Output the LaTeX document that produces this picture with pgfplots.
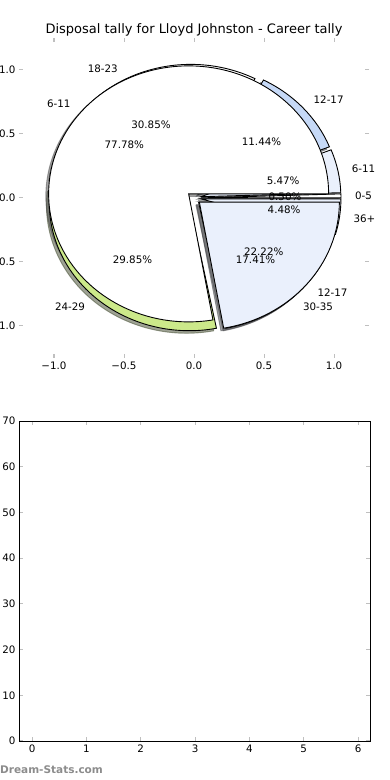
\documentclass[border=0pt]{standalone}
\usepackage{fontspec}
\setmainfont{DejaVu Sans}
\usepackage{pgfplots}
\usepackage{pgfplotstable}
\pgfplotsset{compat=1.18}

\definecolor{paleblue}{RGB}{234,240,252}
\definecolor{lightblue}{RGB}{198,217,247}
\definecolor{lightgreen}{RGB}{204,233,138}
\definecolor{tickgrey}{RGB}{191,191,191}
\definecolor{markgrey}{RGB}{140,140,140}

% Career disposal tally (outer pie, 7 slices)
\pgfplotstableread{
label pct col
0-5 0.50 white
6-11 5.47 paleblue
12-17 11.44 lightblue
18-23 30.85 white
24-29 29.85 lightgreen
30-35 17.41 white
36+ 4.48 paleblue
}\tabA
% second pie (2 slices)
\pgfplotstableread{
label pct col
6-11 77.78 white
12-17 22.22 paleblue
}\tabB

\newcommand\piefont{\fontsize{10.3}{12}\selectfont}
\newcommand\titlefont{\fontsize{13}{15}\selectfont}
\def\pieXu{140pt}
\def\pieYu{128pt}
\def\pieExpl{0.05}

% #1 table, #2 stage: 0 shadow, 1 wedge, 2 texts
\newcommand\drawpie[2]{%
  \pgfplotstablegetrowsof{#1}%
  \pgfmathtruncatemacro\pieLast{\pgfplotsretval-1}%
  \def\pieCum{0}%
  \pgfplotsforeachungrouped \pieI in {0,...,\pieLast}{%
    \pgfplotstablegetelem{\pieI}{pct}\of#1\let\pieP\pgfplotsretval
    \pgfplotstablegetelem{\pieI}{label}\of#1\let\pieLab\pgfplotsretval
    \pgfplotstablegetelem{\pieI}{col}\of#1\let\pieCol\pgfplotsretval
    \pgfmathsetmacro\angS{\pieCum*3.6}%
    \pgfmathsetmacro\angE{(\pieCum+\pieP)*3.6}%
    \pgfmathsetmacro\angM{(\angS+\angE)/2}%
    \pgfmathsetmacro\pieCx{\pieExpl*cos(\angM)}%
    \pgfmathsetmacro\pieCy{\pieExpl*sin(\angM)}%
    \pgfmathsetmacro\pieCum{\pieCum+\pieP}%
    \ifcase#2
      \pgfmathsetmacro\pieCx{\pieCx-0.02}%
      \pgfmathsetmacro\pieCy{\pieCy-0.02}%
      \pgfmathsetmacro\pieRx{\pieCx+cos(\angS)}%
      \pgfmathsetmacro\pieRy{\pieCy+sin(\angS)}%
      \edef\pieCmd{\noexpand\filldraw[fill=\pieCol!30!black,draw=\pieCol!30!black,opacity=0.5,line width=0.9pt] (axis cs:\pieCx,\pieCy) -- (axis cs:\pieRx,\pieRy) arc[start angle=\angS,end angle=\angE,x radius=\pieXu,y radius=\pieYu] -- cycle;}%
      \pieCmd
    \or
      \pgfmathsetmacro\pieRx{\pieCx+cos(\angS)}%
      \pgfmathsetmacro\pieRy{\pieCy+sin(\angS)}%
      \edef\pieCmd{\noexpand\filldraw[fill=\pieCol,draw=black,line width=0.9pt] (axis cs:\pieCx,\pieCy) -- (axis cs:\pieRx,\pieRy) arc[start angle=\angS,end angle=\angE,x radius=\pieXu,y radius=\pieYu] -- cycle;}%
      \pieCmd
    \or
      \pgfmathsetmacro\pieTx{\pieCx+0.6*cos(\angM)}%
      \pgfmathsetmacro\pieTy{\pieCy+0.6*sin(\angM)}%
      \pgfmathsetmacro\pieLx{\pieCx+1.1*cos(\angM)}%
      \pgfmathsetmacro\pieLy{\pieCy+1.1*sin(\angM)}%
      \pgfmathtruncatemacro\pieRight{cos(\angM)>0}%
      \ifnum\pieRight=1 \def\pieAnc{west}\else\def\pieAnc{east}\fi
      \edef\pieCmd{\noexpand\node[font=\noexpand\piefont,inner sep=0pt,anchor=center] at (axis cs:\pieTx,\pieTy) {\pieP\noexpand\%};
        \noexpand\node[font=\noexpand\piefont,inner sep=0pt,anchor=\pieAnc] at (axis cs:\pieLx,\pieLy) {\pieLab};}%
      \pieCmd
    \fi
  }%
}

\begin{document}
\begin{tikzpicture}
\useasboundingbox (0,0) rectangle (390pt,780pt);
\begin{axis}[
  at={(19pt,422pt)}, anchor=south west,
  width=350pt, height=320pt, scale only axis,
  xmin=-1.25, xmax=1.25, ymin=-1.25, ymax=1.25,
  clip=false,
  axis line style={draw=none},
  xtick={-1,-0.5,0,0.5,1},
  xticklabels={−1.0,−0.5,0.0,0.5,1.0},
  ytick={-1,-0.5,0,0.5,1},
  yticklabels={−1.0,−0.5,0.0,0.5,1.0},
  tick align=inside,
  major tick length=4pt,
  tick style={draw=tickgrey, line width=1pt},
  ticklabel style={font=\piefont},
  every axis title/.style={at={(0.5,1)}, anchor=base, yshift=4pt, font=\titlefont},
  title={Disposal tally for Lloyd Johnston - Career tally},
]
\drawpie{\tabA}{0}
\drawpie{\tabB}{0}
\drawpie{\tabA}{1}
\drawpie{\tabB}{1}
\drawpie{\tabA}{2}
\drawpie{\tabB}{2}
\end{axis}
\begin{axis}[
  at={(19pt,39pt)}, anchor=south west,
  width=351pt, height=320pt, scale only axis,
  xmin=-0.24, xmax=6.22, ymin=0, ymax=70,
  xtick={0,...,6}, ytick={0,10,...,70},
  tick align=inside, major tick length=4pt,
  tick style={draw=tickgrey, line width=1pt},
  axis line style={line width=0.9pt},
  ticklabel style={font=\piefont},
  /pgf/number format/assume math mode=true,
]
\end{axis}
\node[anchor=west, inner sep=0pt, font=\bfseries\fontsize{10.5}{12}\selectfont, text=markgrey] at (0pt,10pt) {Dream-Stats.com};
\end{tikzpicture}
\end{document}
